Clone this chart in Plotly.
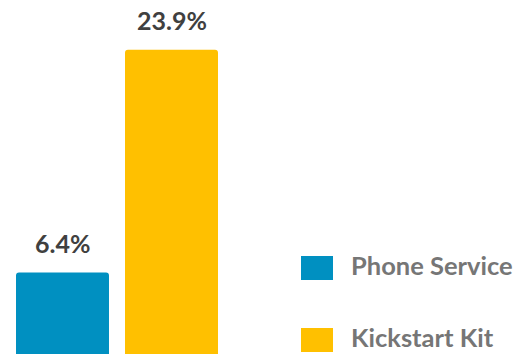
import plotly.graph_objects as go

categories = ["Phone Service", "Kickstart Kit"]
values = [6.4, 23.9]
labels = ["6.4%", "23.9%"]
colors = ["#0090C1", "#FFC000"]

fig = go.Figure()
fig.add_trace(go.Bar(
    x=categories, y=values, marker=dict(color=colors, line=dict(width=0)),
    width=0.853, showlegend=False, hoverinfo="skip",
))

for c, v, t in zip(categories, values, labels):
    fig.add_annotation(x=c, y=v, text="<b>%s</b>" % t, showarrow=False,
                       xref="x", yref="y", yanchor="bottom", yshift=13,
                       font=dict(family="Lato", size=25, color="#404040"))

# custom legend
leg_y = [268, 340]
for name, col, py in zip(categories, colors, leg_y):
    yc = 1 - py / 354
    fig.add_shape(type="rect", xref="paper", yref="paper",
                  x0=301 / 516, x1=333 / 516, y0=yc - 12 / 354, y1=yc + 12 / 354,
                  fillcolor=col, line=dict(width=0))
    fig.add_annotation(xref="paper", yref="paper", x=349 / 516, y=yc + 3.5 / 354,
                       xanchor="left", yanchor="middle", showarrow=False,
                       text="<b>%s</b>" % name,
                       font=dict(family="Lato", size=25.5, color="#767676"))

fig.update_layout(
    width=516, height=354, margin=dict(l=0, r=0, t=0, b=0),
    paper_bgcolor="white", plot_bgcolor="white",
    barcornerradius=3,
    xaxis=dict(domain=[8 / 516, 226 / 516], range=[-0.5, 1.5], visible=False),
    yaxis=dict(range=[0, 27.8], visible=False),
)
fig.write_html("out.html")
